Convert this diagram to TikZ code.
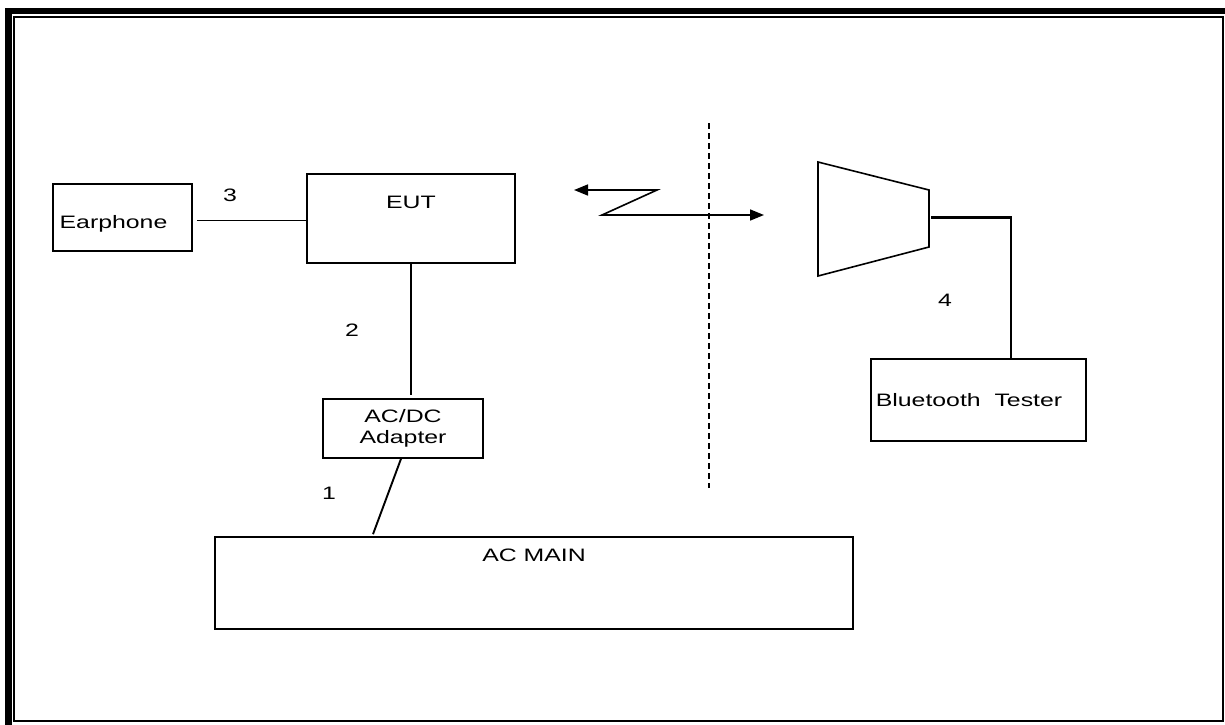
\documentclass[tikz,border=0pt]{standalone}
\usepackage{fontspec}
\setmainfont{Liberation Sans}[FakeStretch=1.38]
\usetikzlibrary{arrows.meta}
\begin{document}
\begin{tikzpicture}[x=1pt,y=-1pt,
  every node/.style={font=\fontsize{18}{21}\selectfont, inner sep=0pt},
  box/.style={draw, line width=1.6pt, rectangle},
  wire/.style={line width=1.9pt},
  radiotips/.style={{Triangle[length=14pt,width=11pt]}-{Triangle[length=14pt,width=11pt]}}]
\useasboundingbox (0,0) rectangle (1225,724);
% frame
\begin{scope}
  \clip (0,0) rectangle (1225,724);
  \draw[line width=6.5pt] (8.5,760) -- (8.5,11) -- (1260,11);
\end{scope}
\draw[line width=2pt] (14,17) rectangle (1223,720.5);

% boxes
\node[box, minimum width=139, minimum height=67, text height=22pt, text depth=0pt] (earph) at (122.5,217.5) {\hspace*{-18pt}Earphone};
\node[box, minimum width=208, minimum height=89, text height=13pt, text depth=34pt] (eut) at (411,218.5) {EUT};
\node[box, minimum width=160, minimum height=59, align=center] (adapter) at (403,428.5) {AC/DC\\Adapter};
\node[box, minimum width=638, minimum height=92, text height=13pt, text depth=56pt] (acmain) at (534,583) {AC MAIN};
\node[box, minimum width=215, minimum height=82] (bt) at (978.5,400) {\hspace*{-19pt}Bluetooth\ \ Tester};

% labels
\node (l3) at (230,195) {3};
\node (l2) at (352,330) {2};
\node (l1) at (329,493) {1};
\node (l4) at (945,300) {4};

% connectors
\draw[wire] ([shift={(4,3)}]earph.east) -- ([shift={(0,2)}]eut.west);
\path (eut.south |- adapter.north) ++(0,-3) coordinate (a2);
\draw[wire] (eut.south) -- (a2);
\draw[wire] ([shift={(-2,0)}]adapter.south) -- ([shift={(-161,-2)}]acmain.north);

% antenna (trapezoid)
\draw[line width=1.6pt] (818,162) coordinate (ta) -- (929,190) coordinate (tb)
  -- (929,247) coordinate (tc) -- (818,276) coordinate (td) -- cycle;
\coordinate (tout) at (931,217.5);
\draw[line width=2.6pt] (tout) -| ([shift={(32.5,0)}]bt.north);

% dashed separator
\coordinate (dtop) at (709,123);
\coordinate (dbot) at (709,488);
\draw[line width=1.6pt, dash pattern=on 6pt off 4pt] (dtop) -- (dbot);

% radio link
\coordinate (z1) at (574,190);
\coordinate (z2) at (657,190);
\coordinate (z3) at (602,215);
\coordinate (z4) at (764,215);
\draw[line width=1.6pt, radiotips] (z1) -- (z2) -- (z3) -- (z4);
\end{tikzpicture}
\end{document}
